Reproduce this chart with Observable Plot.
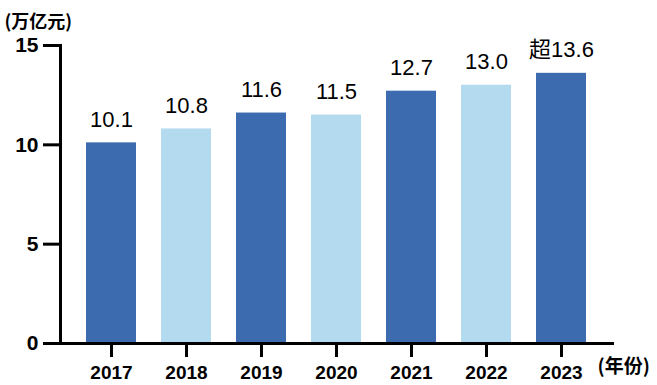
<!DOCTYPE html>
<html>
<head>
<meta charset="utf-8">
<script src="https://cdn.jsdelivr.net/npm/d3@7"></script>
<script src="https://cdn.jsdelivr.net/npm/@observablehq/plot@0.6"></script>
<style>
  html, body { margin: 0; padding: 0; background: #fff; }
</style>
</head>
<body>
<div id="chart"></div>
<script>
const years = ["2017", "2018", "2019", "2020", "2021", "2022", "2023"];
const values = [10.1, 10.8, 11.6, 11.5, 12.7, 13.0, 13.6];
const labels = ["10.1", "10.8", "11.6", "11.5", "12.7", "13.0", "超13.6"];
const colors = ["#3C6BAF", "#B3DAEE", "#3C6BAF", "#B3DAEE", "#3C6BAF", "#B3DAEE", "#3C6BAF"];
const yTicks = [0, 5, 10, 15];
const yUnit = "(万亿元)";
const xUnit = "(年份)";

const data = years.map((year, i) => ({year, value: values[i], label: labels[i], color: colors[i]}));

const font = "'Liberation Sans', Arial, 'Noto Sans CJK SC', sans-serif";

const chart = Plot.plot({
  width: 657,
  height: 385,
  marginLeft: 60,
  marginRight: 45,
  marginTop: 45,
  marginBottom: 42,
  style: {fontFamily: font, background: "#fff", color: "#000", overflow: "visible"},
  x: {domain: years, paddingInner: 1/3, paddingOuter: 0.33, axis: null},
  y: {domain: [0, 15], axis: null},
  color: {type: "identity"},
  marks: [
    Plot.barY(data, {x: "year", y: "value", fill: "color"}),
    Plot.text(data, {x: "year", y: "value", text: "label", lineAnchor: "bottom", dy: -16, fontSize: 22, fill: "#000"}),
    Plot.axisY({ticks: yTicks, tickSize: 17, tickPadding: 5, strokeWidth: 3, fontSize: 21, fontWeight: "bold", label: null, stroke: "#000"}),
    Plot.axisX({tickSize: 14, tickPadding: 8, strokeWidth: 3, fontSize: 19, fontWeight: "bold", label: null, stroke: "#000"}),
    Plot.frame({anchor: "left", strokeWidth: 3, stroke: "#000"}),
    Plot.frame({anchor: "bottom", strokeWidth: 3, stroke: "#000"}),
    Plot.text([yUnit], {frameAnchor: "top-left", dx: -56, dy: -30, textAnchor: "start", fontSize: 18, fontWeight: "bold", fontFamily: "'Noto Sans CJK SC', sans-serif"}),
    Plot.text([xUnit], {frameAnchor: "bottom-right", dx: -15, dy: 29, textAnchor: "start", fontSize: 19, fontWeight: "bold", fontFamily: "'Noto Sans CJK SC', sans-serif"})
  ]
});
document.getElementById("chart").appendChild(chart);
</script>
</body>
</html>
